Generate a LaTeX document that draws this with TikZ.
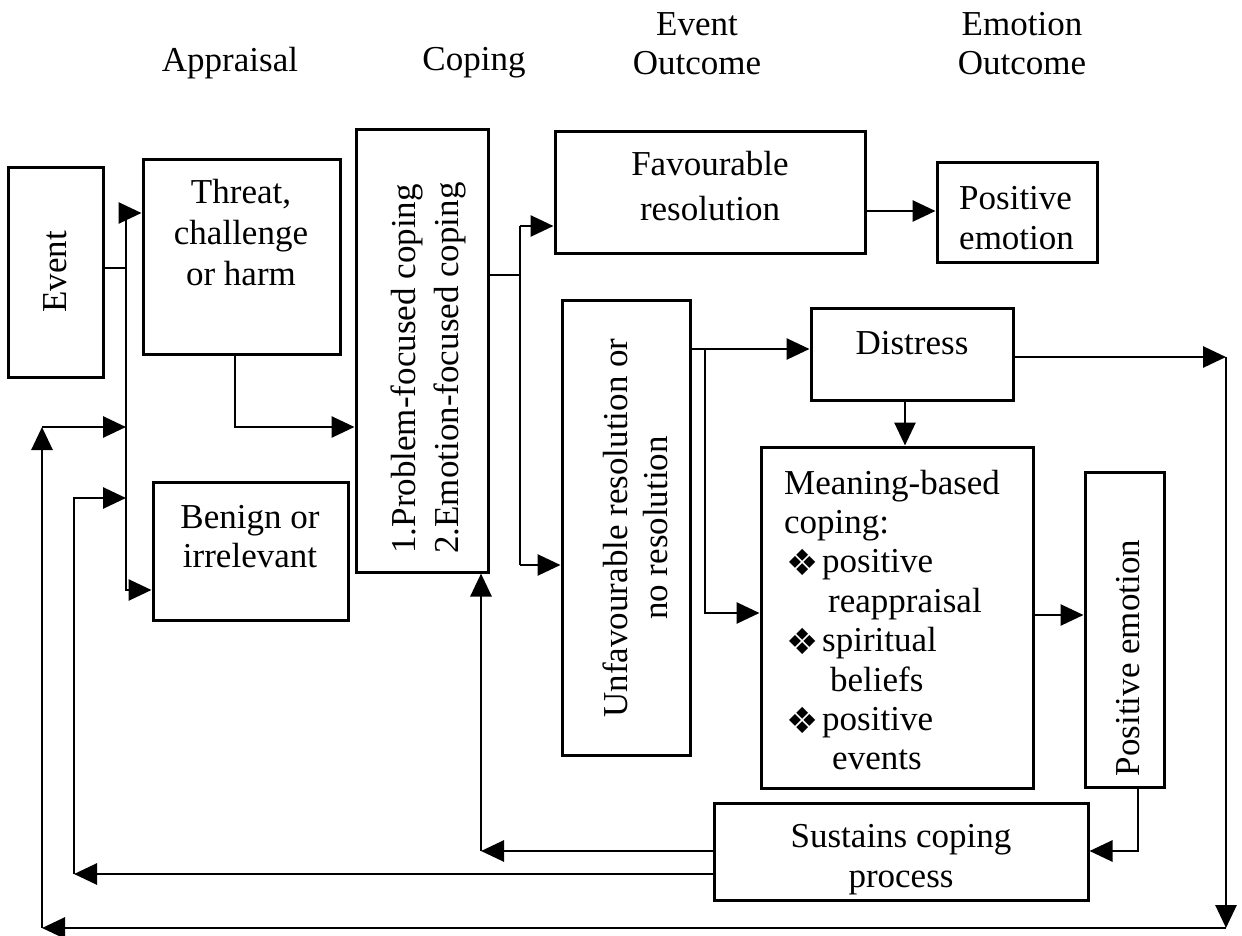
\documentclass[tikz,border=0pt]{standalone}
\usepackage{fontspec}
\setmainfont{Liberation Serif}
\newfontfamily\symfont{DejaVu Sans}
\usetikzlibrary{arrows.meta,fit}

% bullet used in the meaning-based coping list
\newcommand{\mbul}{\makebox[38pt][l]{\hspace{2pt}\raisebox{-3pt}{\symfont\fontsize{36}{36}\selectfont ❖}}}

\begin{document}
\begin{tikzpicture}[x=1pt,y=-1pt,
  box/.style={draw, line width=3pt, inner sep=0pt},
  lbl/.style={font=\fontsize{35}{42}\selectfont, inner sep=0pt, align=center},
  conn/.style={line width=2.8pt},
  arr/.style={conn, -{Triangle[length=23pt,width=21pt]}},
]
\useasboundingbox (0,0) rectangle (1242,936);

% column headings
\node[lbl] (h-appraisal) at (230,63) {Appraisal};
\node[lbl] (h-coping)    at (474,63) {Coping};
\node[lbl, font=\fontsize{35}{39}\selectfont] (h-event) at (697,44) {Event\\Outcome};
\node[lbl, font=\fontsize{35}{39}\selectfont] (h-emotion) at (1022,44) {Emotion\\Outcome};

% boxes
\node[box, fit={(8,168) (103,377)}]    (event) {};
\node[box, fit={(143,160) (340,354)}]  (threat) {};
\node[box, fit={(153,482) (348,620)}]  (benign) {};
\node[box, fit={(356,130) (488,572)}]  (coping) {};
\node[box, fit={(555,132) (865,253)}]  (fav) {};
\node[box, fit={(937,163) (1097,262)}] (pos) {};
\node[box, fit={(562,300) (690,755)}]  (unfav) {};
\node[box, fit={(811,308) (1013,400)}] (distress) {};
\node[box, fit={(761,447) (1033,788)}] (meaning) {};
\node[box, fit={(1085,472) (1164,787)}] (posemo) {};
\node[box, fit={(714,803) (1088,900)}] (sustains) {};

% box texts
\node[lbl, rotate=90] (event-t) at (55,272) {Event};
\node[lbl, font=\fontsize{35}{41}\selectfont] (threat-t) at (241,233) {Threat,\\challenge\\or harm};
\node[lbl, font=\fontsize{35}{39}\selectfont] (benign-t) at (250,537) {Benign or\\irrelevant};
\node[lbl, rotate=90, align=left, font=\fontsize{35}{43}\selectfont] (coping-t) at (428,368)
  {1.Problem-focused coping\\2.Emotion-focused coping};
\node[lbl, font=\fontsize{35}{45}\selectfont] (fav-t) at (710,186) {Favourable\\resolution};
\node[lbl, align=left, anchor=west, font=\fontsize{35}{40}\selectfont] (pos-t) at (959,218) {Positive\\emotion};
\node[lbl, rotate=90, font=\fontsize{35}{40}\selectfont] (unfav-t) at (635,528)
  {Unfavourable resolution or\\no resolution};
\node[lbl] (distress-t) at (912,343) {Distress};
\node[lbl, align=left, anchor=west, font=\fontsize{35}{39.4}\selectfont] (meaning-t) at (784,620)
  {Meaning-based\\
   coping:\\
   \mbul positive\\
   \hspace*{44pt}reappraisal\\
   \mbul spiritual\\
   \hspace*{46pt}beliefs\\
   \mbul positive\\
   \hspace*{48pt}events};
\node[lbl, rotate=90] (posemo-t) at (1128,658) {Positive emotion};
\node[lbl, font=\fontsize{35}{40}\selectfont] (sustains-t) at (901,860) {Sustains coping\\process};

% appraisal spine
\coordinate (sp-top) at (126,213);
\coordinate (sp-bot) at (126,590);
\draw[conn] (event.east |- 0,268) -- (sp-top |- 0,268);
\draw[arr] (sp-top) -- (threat.west |- sp-top);
\draw[arr] (sp-top) -- (sp-bot) -- (benign.west |- sp-bot);

% appraisal to coping
\draw[arr] (threat.south -| 235,0) -- (235,427) -- (coping.west |- 0,427);

% coping to event outcomes
\coordinate (cj) at (520,275);
\draw[conn] (coping.east |- cj) -- (cj);
\draw[arr] (cj |- 0,226) -- (fav.west |- 0,226);
\draw[conn] (cj |- 0,226) -- (cj |- 0,565);
\draw[arr] (cj |- 0,565) -- (unfav.west |- 0,565);

% favourable branch
\draw[arr] (fav.east |- 0,211) -- (pos.west |- 0,211);

% unfavourable branch
\draw[arr] (unfav.east |- 0,349) -- (distress.west |- 0,349);
\draw[arr] (705,349) -- (705,613) -- (meaning.west |- 0,613);
\draw[arr] (distress.south -| 905,0) -- (meaning.north -| 905,0);
\draw[arr] (meaning.east |- 0,615) -- (posemo.west |- 0,615);
\draw[arr] (posemo.south -| 1138,0) -- (1138,851) -- (sustains.east |- 0,851);

% feedback from sustained coping
\draw[arr] (sustains.west |- 0,851) -- (481,851);
\draw[arr] (481,851) -- (coping.south -| 481,0);
\draw[arr] (sustains.west |- 0,874) -- (74,874);
\draw[arr] (74,874) -- (74,498) -- (sp-top |- 0,498);

% outer loop from distress back to appraisal
\draw[arr] (distress.east |- 0,357) -- (1226,357);
\draw[arr] (1226,357) -- (1226,928);
\draw[arr] (1226,928) -- (42,928);
\draw[arr] (42,928) -- (42,427);
\draw[arr] (42,427) -- (sp-top |- 0,427);
\end{tikzpicture}
\end{document}
